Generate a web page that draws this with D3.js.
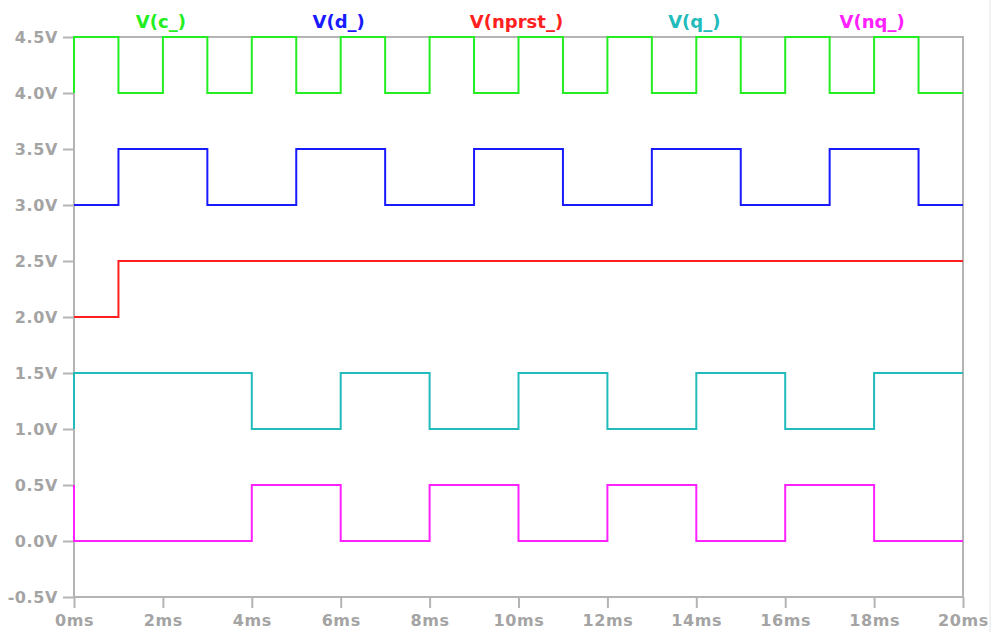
<!DOCTYPE html>
<html>
<head>
	<title></title>
	<style>
		body { margin: 0; background: #fff; }
		text { font-family: "DejaVu Sans", sans-serif; font-weight: bold; }
	</style>
</head>
<body>
	<svg id="container" width="992" height="632"></svg>
</body>
<script src="https://d3js.org/d3.v7.min.js"></script>
<script>
	// waveform levels, one value per 1ms slot (0..20ms), plus the value just before t=0
	let names = ["V(c_)", "V(d_)", "V(nprst_)", "V(q_)", "V(nq_)"]
	let colors = ["#22ee22", "#1a1aff", "#ff2020", "#22bbbb", "#ff22ff"]
	let startVals = [4.0, 3.0, 2.0, 1.0, 0.5]
	let cVals = [4.5,4.0,4.5,4.0,4.5,4.0,4.5,4.0,4.5,4.0,4.5,4.0,4.5,4.0,4.5,4.0,4.5,4.0,4.5,4.0]
	let dVals = [3.0,3.5,3.5,3.0,3.0,3.5,3.5,3.0,3.0,3.5,3.5,3.0,3.0,3.5,3.5,3.0,3.0,3.5,3.5,3.0]
	let nprstVals = [2.0,2.5,2.5,2.5,2.5,2.5,2.5,2.5,2.5,2.5,2.5,2.5,2.5,2.5,2.5,2.5,2.5,2.5,2.5,2.5]
	let qVals = [1.5,1.5,1.5,1.5,1.0,1.0,1.5,1.5,1.0,1.0,1.5,1.5,1.0,1.0,1.5,1.5,1.0,1.0,1.5,1.5]
	let nqVals = [0.0,0.0,0.0,0.0,0.5,0.5,0.0,0.0,0.5,0.5,0.0,0.0,0.5,0.5,0.0,0.0,0.5,0.5,0.0,0.0]
	let yTicks = [-0.5,0.0,0.5,1.0,1.5,2.0,2.5,3.0,3.5,4.0,4.5]
	let xTicks = [0,2,4,6,8,10,12,14,16,18,20]

	let series = [cVals, dVals, nprstVals, qVals, nqVals]

	let svg = d3.select("#container")
	let plotL = 74, plotR = 963, plotT = 37, plotB = 597
	let gray = "#b4b4b4"
	let labelGray = "#a4a4a4"

	let x = d3.scaleLinear().domain([0, 20]).range([plotL, plotR])
	let y = d3.scaleLinear().domain([-0.5, 4.5]).range([plotB, plotT])

	// frame
	svg.append("rect")
		.attr("x", plotL).attr("y", plotT)
		.attr("width", plotR - plotL).attr("height", plotB - plotT)
		.attr("fill", "none").attr("stroke", gray).attr("stroke-width", 2)

	let yAxis = svg.append("g")
		.attr("transform", `translate(${plotL},0)`)
		.call(d3.axisLeft(y).tickValues(yTicks).tickSize(11).tickPadding(5)
			.tickFormat(d => (d < 0 ? "-" : "") + Math.abs(d).toFixed(1) + "V"))
	let xAxis = svg.append("g")
		.attr("transform", `translate(0,${plotB})`)
		.call(d3.axisBottom(x).tickValues(xTicks).tickSize(11).tickPadding(7)
			.tickFormat(d => d + "ms"))

	for (let ax of [yAxis, xAxis]) {
		ax.select(".domain").remove()
		ax.selectAll("line").attr("stroke", gray).attr("stroke-width", 2)
		ax.selectAll("text")
			.attr("fill", labelGray)
			.style("font-size", "16px")
			.style("letter-spacing", "0.6px")
	}

	// right border of the window
	svg.append("line")
		.attr("x1", 990).attr("x2", 990).attr("y1", 0).attr("y2", 632)
		.attr("stroke", "#e4e4e4").attr("stroke-width", 1)

	let line = d3.line()
		.x(d => x(d[0]))
		.y(d => y(d[1]))
		.curve(d3.curveStepAfter)

	series.forEach((vals, i) => {
		let pts = [[0, startVals[i]]]
		vals.forEach((v, t) => pts.push([t, v]))
		pts.push([20, vals[vals.length - 1]])
		svg.append("path")
			.attr("d", line(pts))
			.attr("fill", "none")
			.attr("stroke", colors[i])
			.attr("stroke-width", 2)
	})

	// legend above the plot
	let slot = (plotR - plotL) / names.length
	svg.selectAll(".legend")
		.data(names)
		.enter()
		.append("text")
			.attr("class", "legend")
			.attr("x", (d, i) => plotL + slot * (i + 0.5) - 2)
			.attr("y", 28)
			.attr("text-anchor", "middle")
			.attr("fill", (d, i) => colors[i])
			.style("font-size", "18px")
			.text(d => d)
</script>
</html>
